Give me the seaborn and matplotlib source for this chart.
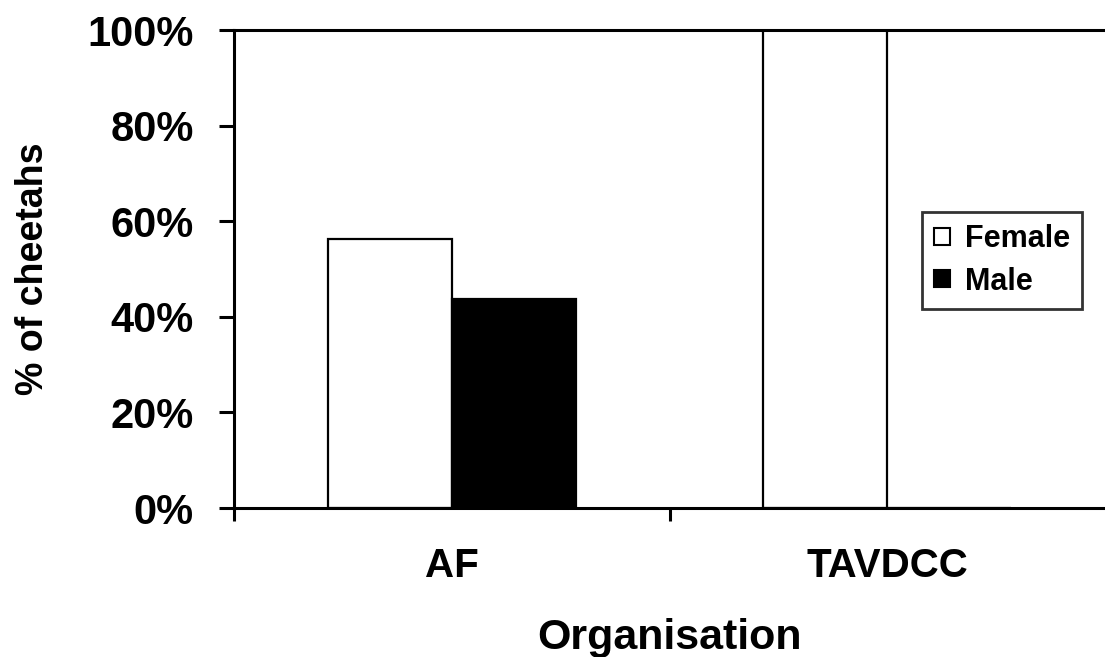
import pandas as pd
import matplotlib.pyplot as plt
import seaborn as sns
from matplotlib.ticker import PercentFormatter, FixedLocator

# data
organisations = ["AF", "TAVDCC"]
female_pct = [56.25, 100.0]
male_pct = [43.75, 0.0]
sexes = ["Female", "Male"]
y_ticks = [0, 20, 40, 60, 80, 100]

sns.set_theme(style="white")
plt.rcParams['font.family'] = ['Liberation Sans', 'DejaVu Sans']
plt.rcParams['font.weight'] = 'bold'
for key in ['text.color', 'axes.labelcolor', 'xtick.color', 'ytick.color']:
    plt.rcParams[key] = 'black'

df = pd.DataFrame({
    "Organisation": organisations * 2,
    "Sex": [sexes[0]] * len(organisations) + [sexes[1]] * len(organisations),
    "pct": female_pct + male_pct,
})

fig = plt.figure(figsize=(11.05, 6.57), dpi=100)
ax = fig.add_axes([234 / 1105, 1 - 508 / 657, 1 - 234 / 1105, (508 - 30) / 657])

sns.barplot(data=df, x="Organisation", y="pct", hue="Sex",
            palette={"Female": "white", "Male": "black"},
            edgecolor="black", linewidth=1.6, width=0.57, ax=ax)

ax.set_xlim(-0.5, 1.5)
ax.set_ylim(0, 100)
ax.set_yticks(y_ticks)
ax.yaxis.set_major_formatter(PercentFormatter(decimals=0))
ax.xaxis.set_minor_locator(FixedLocator([-0.5, 0.5]))

for side in ["left", "bottom", "top"]:
    ax.spines[side].set_visible(True)
    ax.spines[side].set_color("black")
    ax.spines[side].set_linewidth(2.2)
ax.spines["right"].set_visible(False)

ax.tick_params(axis="y", which="major", direction="out", length=11, width=2.2,
               labelsize=30, pad=18, left=True)
ax.tick_params(axis="x", which="major", length=0, labelsize=29, pad=28)
ax.tick_params(axis="x", which="minor", direction="out", length=9, width=2.2, bottom=True)
for lbl in ax.get_xticklabels() + ax.get_yticklabels():
    lbl.set_fontweight("bold")

ax.set_xlabel("Organisation", fontsize=31, fontweight="bold", labelpad=24)
ax.set_ylabel("% of cheetahs", fontsize=27, fontweight="bold", labelpad=26)

leg = ax.legend(loc="upper left", bbox_to_anchor=(0.79, 0.619), frameon=True,
                fancybox=False, edgecolor="black", fontsize=22, borderaxespad=0,
                handlelength=0.5, handleheight=0.5, handletextpad=0.5,
                borderpad=0.4, labelspacing=0.4, title=None)
leg.get_frame().set_linewidth(2)
for t in leg.get_texts():
    t.set_fontweight("bold")
for h in leg.legend_handles:
    h.set_edgecolor("black")
    h.set_linewidth(1.5)

fig.savefig("out.png", dpi=100)
